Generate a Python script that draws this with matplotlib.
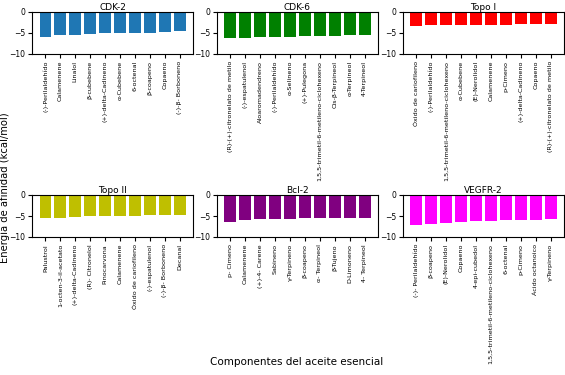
import matplotlib.pyplot as plt

cdk2_names = ["(-)-Perilaldehído", "Calamenene", "Linalol", "β-cubebene", "(+)-delta-Cadineno",
              "α-Cubebene", "6-octenal", "β-coapeno", "Copaeno", "(-)-β- Borboneno"]
cdk2_vals = [-6.0, -5.6, -5.6, -5.4, -5.2, -5.2, -5.1, -5.1, -4.9, -4.7]

cdk6_names = ["(R)-(+)-citronelato de metilo", "(-)-espatulenol", "Aloaromadendreno", "(-)-Perilaldehído",
              "α-Selineno", "(+)-Pulegona", "1,5,5-trimetil-6-metileno-ciclohexeno", "Cis-β-Terpineol",
              "α-Terpineol", "4-Terpineol"]
cdk6_vals = [-6.2, -6.2, -6.1, -6.0, -6.0, -5.8, -5.8, -5.8, -5.6, -5.6]

topo1_names = ["Óxido de cariofileno", "(-)-Perilaldehído", "1,5,5-trimetil-6-metileno-ciclohexeno",
               "α-Cubebene", "(E)-Nerolidol", "Calamenene", "p-Cimeno", "(+)-delta-Cadineno",
               "Copaeno", "(R)-(+)-citronelato de metilo"]
topo1_vals = [-3.5, -3.3, -3.2, -3.2, -3.2, -3.1, -3.1, -3.0, -2.9, -2.9]

topo2_names = ["Palustrol", "1-octen-3-il-acetato", "(+)-delta-Cadineno", "(R)- Citronelol", "Pinocarvona",
               "Calamenene", "Óxido de cariofileno", "(-)-espatulenol", "(-)-β- Borboneno", "Decanal"]
topo2_vals = [-5.5, -5.5, -5.3, -5.1, -5.0, -4.9, -4.9, -4.8, -4.8, -4.8]

bcl2_names = ["p- Cimeno", "Calamenene", "(+)-4- Carene", "Sabineno", "γ-Terpineno", "β-coapeno",
              "α- Terpineol", "β-Tujeno", "D-Limoneno", "4- Terpineol"]
bcl2_vals = [-6.4, -5.9, -5.7, -5.6, -5.6, -5.5, -5.5, -5.5, -5.4, -5.4]

vegfr2_names = ["(-)- Perilaldehído", "β-coapeno", "(E)-Nerolidol", "Copaeno", "4-epi-cubedol",
                "1,5,5-trimetil-6-metileno-ciclohexeno", "6-octenal", "p-Cimeno", "Ácido octanoico",
                "γ-Terpineno"]
vegfr2_vals = [-7.2, -6.8, -6.6, -6.5, -6.3, -6.1, -6.0, -6.0, -5.9, -5.8]

panels = [
    ("CDK-2", cdk2_names, cdk2_vals, "tab:blue"),
    ("CDK-6", cdk6_names, cdk6_vals, "green"),
    ("Topo I", topo1_names, topo1_vals, "red"),
    ("Topo II", topo2_names, topo2_vals, "y"),
    ("Bcl-2", bcl2_names, bcl2_vals, "purple"),
    ("VEGFR-2", vegfr2_names, vegfr2_vals, "magenta"),
]

fig, axes = plt.subplots(2, 3, figsize=(5.65, 3.75), dpi=100)
lefts = [0.057, 0.384, 0.713]
for i, (title, names, vals, color) in enumerate(panels):
    ax = axes.flat[i]
    row, col = divmod(i, 3)
    bottom = 0.857 if row == 0 else 0.368
    ax.set_position([lefts[col], bottom, 0.285, 0.112])
    ax.bar(range(len(vals)), vals, color=color, width=0.8)
    ax.set_xticks(range(len(vals)))
    ax.set_xticklabels(names, rotation=90, fontsize=4.6)
    ax.set_ylim(-10, 0)
    ax.set_yticks([0, -5, -10])
    ax.tick_params(axis='y', labelsize=5.5, pad=2, length=3)
    ax.tick_params(axis='x', pad=2, length=3)
    ax.set_title(title, fontsize=6.5, pad=1.5)

fig.text(0.009, 0.5, "Energía de afinidad (kcal/mol)", rotation=90, va='center', ha='center', fontsize=7.2)
fig.text(0.525, 0.035, "Componentes del aceite esencial", ha='center', va='center', fontsize=7.5)

plt.savefig("out.png", dpi=100)
